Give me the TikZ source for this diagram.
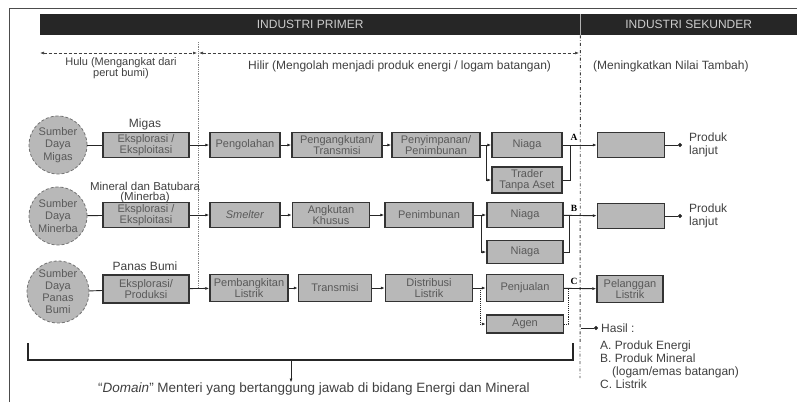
\documentclass[tikz,border=0pt]{standalone}
\usepackage{fontspec}
\setmainfont{Liberation Sans}
\newfontfamily\tagfont{Liberation Serif}
\usepackage{tikz}
\usetikzlibrary{arrows.meta, positioning, calc}

\begin{document}
\begin{tikzpicture}[x=1pt, y=-1pt,
  proc/.style={draw=black!80, line width=1.4pt, fill=black!28, text=black!65, font=\fontsize{11}{11.5}\selectfont, align=center, inner sep=0pt, minimum height=25pt},
  src/.style={circle, draw=black!55, densely dashed, line width=0.8pt, fill=black!28, text=black!65, font=\fontsize{11}{12.5}\selectfont, align=center, inner sep=0pt, minimum size=58pt},
  hdr/.style={fill=black!85, text=white!80!black, font=\fontsize{12}{12}\selectfont, anchor=north west, minimum height=21pt, inner sep=0pt},
  note/.style={font=\fontsize{12}{12.5}\selectfont, text=black!75, align=center, inner sep=0pt},
  tag/.style={font=\tagfont\bfseries\fontsize{9.5}{9.5}\selectfont, inner sep=0pt},
  link/.style={line width=0.9pt, draw=black!85},
  arrow/.style={-{Latex[length=4pt, width=3pt]}, line width=0.9pt, draw=black!85},
  span/.style={{Latex[length=4pt, width=3pt]}-{Latex[length=4pt, width=3pt]}, line width=0.6pt, draw=black!75, densely dashed},
  ends/.style={-{Circle[length=4pt]}, line width=0.9pt, draw=black!85}
]
  \useasboundingbox (0,0) rectangle (797,402);

  % frame and header
  \draw[black!70, line width=0.8pt] (9,402) -- (9,8) -- (797,8);
  \node[hdr, minimum width=540pt] (primer) at (40,14) {INDUSTRI PRIMER};
  \node[hdr, minimum width=217pt] (sekunder) at (580,14) {INDUSTRI SEKUNDER};
  \draw[white!70!black, line width=0.8pt] (primer.north east) -- (primer.south east);

  % dividers
  \coordinate (div_top) at (198,42);
  \coordinate (div_bot) at (198,288);
  \draw[black!50, densely dotted, line width=0.8pt] (div_top) -- (div_bot);
  \coordinate (sek_bot) at (580,378);
  \draw[black!75, dash dot, line width=0.9pt] (primer.south east) -- (sek_bot);

  % hulu / hilir
  \coordinate (hulu_l) at (40,53);
  \coordinate (hulu_r) at (197,53);
  \coordinate (hilir_l) at (199,53);
  \coordinate (hilir_r) at (579,53);
  \draw[span] (hulu_l) -- (hulu_r);
  \draw[span] (hilir_l) -- (hilir_r);
  \node[note, font=\fontsize{11}{11.5}\selectfont] (hulu) at (121,68) {Hulu (Mengangkat dari\\perut bumi)};
  \node[note, anchor=west] (hilir) at (248,66) {Hilir (Mengolah menjadi produk energi / logam batangan)};
  \node[note, anchor=west] (nilai) at (593,66) {(Meningkatkan Nilai Tambah)};

  % Migas
  \node[src] (migas) at (58,145) {Sumber\\Daya\\Migas};
  \node[proc, minimum width=86pt] (m_eks) at (146,145) {Eksplorasi /\\Eksploitasi};
  \node[note] at (145,124) {Migas};
  \node[proc, minimum width=70pt] (m_olah) at (245,145) {Pengolahan};
  \node[proc, minimum width=90pt] (m_angkut) at (337,145) {Pengangkutan/\\Transmisi};
  \node[proc, minimum width=88pt] (m_simpan) at (436,145) {Penyimpanan/\\Penimbunan};
  \node[proc, minimum width=70pt] (m_niaga) at (527,145) {Niaga};
  \node[proc, minimum width=70pt, minimum height=26pt] (m_trader) at (527,180) {Trader\\Tanpa Aset};
  \node[proc, minimum width=67pt] (m_lanjut) at (631,145) {};
  \coordinate (m_split) at (486,145);
  \coordinate (m_join) at (570,145);
  \coordinate (m_dot) at (682,145);
  \node[note, anchor=west, align=left] (m_produk) at (689,145) {Produk\\lanjut};
  \node[tag] at (574,137) {A};

  \draw[link] (migas) -- (m_eks);
  \draw[arrow] (m_eks) -- (m_olah);
  \draw[arrow] (m_olah) -- (m_angkut);
  \draw[arrow] (m_angkut) -- (m_simpan);
  \draw[link] (m_simpan) -- (m_split);
  \draw[arrow] (m_split) -- (m_niaga);
  \draw[arrow] (m_split) |- (m_trader);
  \draw[link] (m_trader) -| (m_join);
  \draw[arrow] (m_niaga) -- (m_lanjut);
  \draw[ends] (m_lanjut) -- (m_dot);

  % Minerba
  \node[src] (minerba) at (58,216) {Sumber\\Daya\\Minerba};
  \node[proc, minimum width=86pt] (b_eks) at (146,215) {Eksplorasi /\\Eksploitasi};
  \node[note, font=\fontsize{11.5}{10}\selectfont] at (145,193) {Mineral dan Batubara\\(Minerba)};
  \node[proc, minimum width=70pt] (b_smelter) at (245,215) {\textit{Smelter}};
  \node[proc, minimum width=77pt] (b_angkut) at (331,215) {Angkutan\\Khusus};
  \node[proc, minimum width=88pt] (b_timbun) at (429,215) {Penimbunan};
  \node[proc, minimum width=76pt] (b_niaga) at (525,215) {Niaga};
  \node[proc, minimum width=76pt, minimum height=23pt] (b_niaga2) at (525,252) {Niaga};
  \node[proc, minimum width=67pt] (b_lanjut) at (631,216) {};
  \coordinate (b_split) at (481,215);
  \coordinate (b_join) at (569,215);
  \coordinate (b_dot) at (682,216);
  \node[note, anchor=west, align=left] (b_produk) at (689,216) {Produk\\lanjut};
  \node[tag] at (574,208) {B};

  \draw[link] (minerba) -- (b_eks);
  \draw[arrow] (b_eks) -- (b_smelter);
  \draw[arrow] (b_smelter) -- (b_angkut);
  \draw[arrow] (b_angkut) -- (b_timbun);
  \draw[link] (b_timbun) -- (b_split);
  \draw[arrow] (b_split) -- (b_niaga);
  \draw[arrow] (b_split) |- (b_niaga2);
  \draw[link] (b_niaga2) -| (b_join);
  \draw[arrow] (b_niaga) -- (b_lanjut);
  \draw[ends] (b_lanjut) -- (b_dot);

  % Panas Bumi
  \node[src, minimum size=62pt, font=\fontsize{11}{12}\selectfont] (panas) at (58,292) {Sumber\\Daya\\Panas\\Bumi};
  \node[proc, minimum width=86pt, minimum height=28pt] (p_eks) at (146,289) {Eksplorasi/\\Produksi};
  \node[note] at (145,266) {Panas Bumi};
  \node[proc, minimum width=78pt, minimum height=27pt] (p_bangkit) at (249,288) {Pembangkitan\\Listrik};
  \node[proc, minimum width=73pt, minimum height=27pt] (p_trans) at (335,288) {Transmisi};
  \node[proc, minimum width=87pt, minimum height=27pt] (p_distrib) at (429,288) {Distribusi\\Listrik};
  \node[proc, minimum width=77pt, minimum height=27pt] (p_jual) at (525,288) {Penjualan};
  \node[proc, minimum width=77pt, minimum height=18pt] (p_agen) at (525,324) {Agen};
  \node[proc, minimum width=66pt, minimum height=27pt] (p_langgan) at (630,289) {Pelanggan\\Listrik};
  \coordinate (p_split) at (480,288);
  \coordinate (p_join) at (568,288);
  \node[tag] at (574,281) {C};

  \draw[link] (panas) -- (p_eks);
  \draw[arrow] (p_eks) -- (p_bangkit);
  \draw[arrow] (p_bangkit) -- (p_trans);
  \draw[arrow] (p_trans) -- (p_distrib);
  \draw[link] (p_distrib) -- (p_split);
  \draw[arrow] (p_split) -- (p_jual);
  \draw[arrow, densely dotted] (p_split) |- (p_agen);
  \draw[link, densely dotted] (p_agen) -| (p_join);
  \draw[arrow] (p_jual) -- (p_langgan);

  % hasil
  \coordinate (h_start) at (581,328);
  \coordinate (h_dot) at (598,328);
  \draw[ends] (h_start) -- (h_dot);
  \node[note, anchor=west] (hasil) at (601,328) {Hasil :};
  \node[note, anchor=north west, align=left, font=\fontsize{12}{12.8}\selectfont] (h_list) at (600,341)
    {A. Produk Energi\\B. Produk Mineral\\\hspace*{12pt}(logam/emas batangan)\\C. Listrik};

  % domain
  \coordinate (br_l) at (28,343);
  \coordinate (br_r) at (573,343);
  \coordinate (br_m) at (291,360);
  \draw[black!85, line width=1.6pt] (br_l) |- (br_m) -| (br_r);
  \node[note, font=\fontsize{13.5}{14}\selectfont] (domain) at (314,389) {``\textit{Domain}'' Menteri yang bertanggung jawab di bidang Energi dan Mineral};
  \draw[arrow] (br_m) -- (br_m |- domain.north);
\end{tikzpicture}
\end{document}
